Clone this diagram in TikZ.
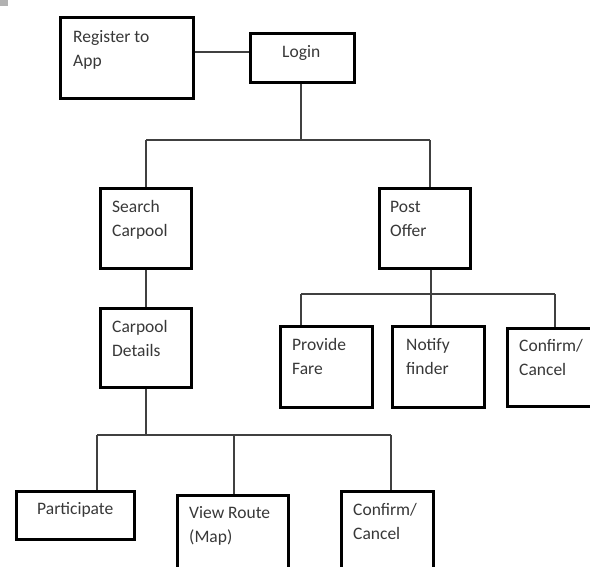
\documentclass[tikz,border=0pt]{standalone}
\usepackage{fontspec}
\setmainfont{Carlito}
\begin{document}
\begin{tikzpicture}[x=1pt,y=-1pt,
  box/.style={draw=black,line width=3pt,anchor=north west,inner sep=0pt,fill=white},
  conn/.style={draw=black!75,line width=1.4pt},
  lbl/.style={anchor=base west,inner sep=0pt,align=left,text=black!78,
    font=\fontsize{17.5}{24}\selectfont}]
\clip (0,0) rectangle (590,566);
\fill[white] (0,0) rectangle (590,566);
\fill[black!30] (0,0) rectangle (8,6);
% boxes
\node[box,minimum width=133pt,minimum height=81pt] (reg) at (58.5,15.5) {};
\node[box,minimum width=104pt,minimum height=49pt] (login) at (248.5,31.5) {};
\node[box,minimum width=91pt,minimum height=80pt] (search) at (98.5,186.5) {};
\node[box,minimum width=91pt,minimum height=80pt] (post) at (377.5,186.5) {};
\node[box,minimum width=91pt,minimum height=79pt] (details) at (98.5,306.5) {};
\node[box,minimum width=92pt,minimum height=81pt] (fare) at (278.5,324.5) {};
\node[box,minimum width=92pt,minimum height=81pt] (notify) at (390.5,324.5) {};
\node[box,minimum width=95pt,minimum height=78pt] (confirmA) at (505.5,326.5) {};
\node[box,minimum width=118pt,minimum height=48pt] (part) at (14.5,489.5) {};
\node[box,minimum width=111pt,minimum height=90pt] (route) at (175.5,493.5) {};
\node[box,minimum width=92pt,minimum height=90pt] (confirmB) at (339.5,489.5) {};
% texts (base anchor = baseline of last line)
\node[lbl] (treg) at (73,66) {Register to\\App};
\node[lbl] (tlogin) at (282,57) {Login};
\node[lbl] (tsearch) at (112,236) {Search\\Carpool};
\node[lbl] (tpost) at (390,236) {Post\\Offer};
\node[lbl] (tdetails) at (112,356) {Carpool\\Details};
\node[lbl] (tfare) at (292,374) {Provide\\Fare};
\node[lbl] (tnotify) at (406,374) {Notify\\finder};
\node[lbl] (tconfA) at (519,375) {Confirm/\\Cancel};
\node[lbl] (tpart) at (37,514) {Participate};
\node[lbl] (troute) at (189,542) {View Route\\(Map)};
\node[lbl] (tconfB) at (353,539) {Confirm/\\Cancel};
% junction coordinates
\coordinate (h1) at (301,140);
\coordinate (h1l) at (146,140);
\coordinate (h1r) at (430,140);
\coordinate (h2) at (431,294);
\coordinate (h2l) at (301,294);
\coordinate (h2r) at (555,294);
\coordinate (h3) at (146,435);
\coordinate (h3l) at (97,435);
\coordinate (h3m) at (234,435);
\coordinate (h3r) at (391,435);
% connectors
\draw[conn] (reg.east |- 0,52) -- (login.west |- 0,52);
\draw[conn] (h1 |- login.south) -- (h1);
\draw[conn] (h1l) -- (h1r);
\draw[conn] (h1l) -- (h1l |- search.north);
\draw[conn] (h1r) -- (h1r |- post.north);
\draw[conn] (h1l |- search.south) -- (h1l |- details.north);
\draw[conn] (h2 |- post.south) -- (h2);
\draw[conn] (h2l) -- (h2r);
\draw[conn] (h2l) -- (h2l |- fare.north);
\draw[conn] (h2) -- (h2 |- notify.north);
\draw[conn] (h2r) -- (h2r |- confirmA.north);
\draw[conn] (h3 |- details.south) -- (h3);
\draw[conn] (h3l) -- (h3r);
\draw[conn] (h3l) -- (h3l |- part.north);
\draw[conn] (h3m) -- (h3m |- route.north);
\draw[conn] (h3r) -- (h3r |- confirmB.north);
\end{tikzpicture}
\end{document}
